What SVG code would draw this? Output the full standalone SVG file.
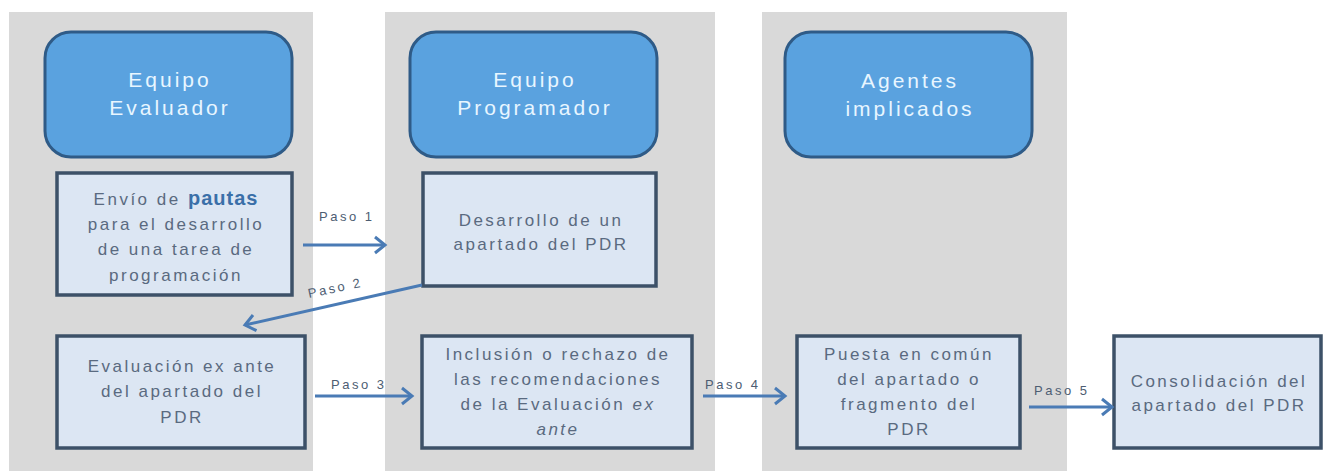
<svg xmlns="http://www.w3.org/2000/svg" width="1324" height="471" viewBox="0 0 1324 471">
<style>
.col{fill:#d9d9d9}
.hdr{fill:#5aa2df;stroke:#2f5b87;stroke-width:3}
.hdrt{font-family:"Liberation Sans",Arial,sans-serif;font-size:21px;fill:#e8f6ff;letter-spacing:3px;text-anchor:middle}
.box{fill:#dce6f3;stroke:#3d5168;stroke-width:3.5}
.bt{font-family:"Liberation Sans",Arial,sans-serif;font-size:17px;fill:#5a6a80;letter-spacing:2.5px;text-anchor:middle}
.bold{font-weight:bold;font-size:20px;fill:#3a6fa8;letter-spacing:1px}
.lbl{font-family:"Liberation Sans",Arial,sans-serif;font-size:13px;fill:#4d5d72;letter-spacing:2.5px}
.arr{stroke:#4a7bb5;stroke-width:3;fill:none;marker-end:url(#ah)}
</style>
<defs>
<marker id="ah" markerUnits="userSpaceOnUse" markerWidth="16" markerHeight="20" refX="12" refY="10" orient="auto">
<path d="M2,2 L12,10 L2,18" fill="none" stroke="#4a7bb5" stroke-width="3"/>
</marker>
</defs>
<rect width="1324" height="471" fill="#ffffff"/>
<g id="columns">
<rect class="col" x="9" y="12" width="304" height="459"/>
<rect class="col" x="385" y="12" width="330" height="459"/>
<rect class="col" x="762" y="12" width="305" height="459"/>
</g>
<g id="hdr-evaluador">
<rect class="hdr" x="45" y="32" width="247" height="125" rx="26"/>
<text class="hdrt" x="170" y="87">Equipo</text>
<text class="hdrt" x="170" y="115">Evaluador</text>
</g>
<g id="hdr-programador">
<rect class="hdr" x="410" y="32" width="247" height="125" rx="26"/>
<text class="hdrt" x="535" y="87">Equipo</text>
<text class="hdrt" x="535" y="115">Programador</text>
</g>
<g id="hdr-agentes">
<rect class="hdr" x="785" y="32" width="247" height="125" rx="26"/>
<text class="hdrt" x="910" y="88">Agentes</text>
<text class="hdrt" x="910" y="116">implicados</text>
</g>
<g id="n-envio">
<rect class="box" x="57" y="173" width="235" height="122"/>
<text class="bt" x="176" y="205">Envío de <tspan class="bold">pautas</tspan></text>
<text class="bt" x="176" y="230">para el desarrollo</text>
<text class="bt" x="176" y="255">de una tarea de</text>
<text class="bt" x="176" y="281">programación</text>
</g>
<g id="n-desarrollo">
<rect class="box" x="423" y="173" width="233" height="113"/>
<text class="bt" x="541" y="226">Desarrollo de un</text>
<text class="bt" x="541" y="250">apartado del PDR</text>
</g>
<g id="n-evaluacion">
<rect class="box" x="57" y="336" width="248" height="112"/>
<text class="bt" x="182" y="372">Evaluación ex ante</text>
<text class="bt" x="182" y="397">del apartado del</text>
<text class="bt" x="182" y="423">PDR</text>
</g>
<g id="n-inclusion">
<rect class="box" x="422" y="336" width="270" height="112"/>
<text class="bt" x="558" y="360">Inclusión o rechazo de</text>
<text class="bt" x="558" y="385">las recomendaciones</text>
<text class="bt" x="558" y="410">de la Evaluación <tspan font-style="italic">ex</tspan></text>
<text class="bt" x="558" y="435" font-style="italic">ante</text>
</g>
<g id="n-puesta">
<rect class="box" x="797" y="336" width="223" height="112"/>
<text class="bt" x="909" y="360">Puesta en común</text>
<text class="bt" x="909" y="385">del apartado o</text>
<text class="bt" x="909" y="410">fragmento del</text>
<text class="bt" x="909" y="435">PDR</text>
</g>
<g id="n-consolidacion">
<rect class="box" x="1114" y="336" width="207" height="112"/>
<text class="bt" x="1219" y="387">Consolidación del</text>
<text class="bt" x="1219" y="411">apartado del PDR</text>
</g>
<g id="connectors">
<line class="arr" x1="303" y1="245" x2="385" y2="245"/>
<text class="lbl" x="319" y="221">Paso 1</text>
<line class="arr" x1="422" y1="285" x2="245" y2="325"/>
<text class="lbl" x="309" y="298" transform="rotate(-12 309 298)">Paso 2</text>
<line class="arr" x1="315" y1="396" x2="412" y2="396"/>
<text class="lbl" x="331" y="389">Paso 3</text>
<line class="arr" x1="703" y1="396" x2="785" y2="396"/>
<text class="lbl" x="705" y="389">Paso 4</text>
<line class="arr" x1="1029" y1="407" x2="1112" y2="407"/>
<text class="lbl" x="1034" y="395">Paso 5</text>
</g>
</svg>
